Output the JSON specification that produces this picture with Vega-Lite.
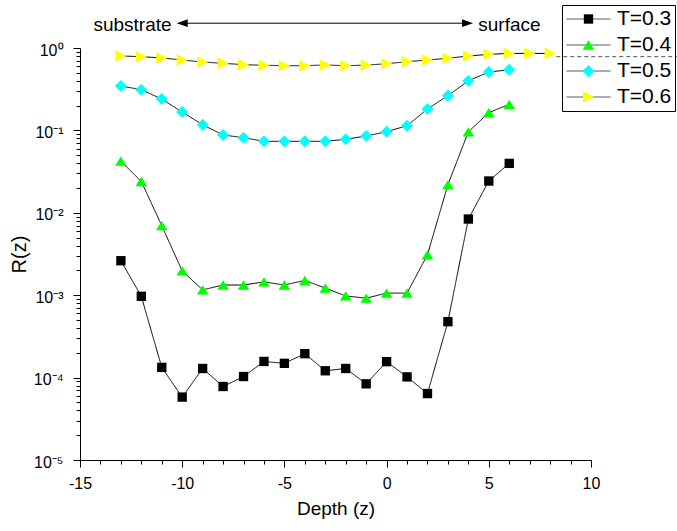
{
  "$schema": "https://vega.github.io/schema/vega-lite/v6.json",
  "width": 511,
  "height": 412,
  "autosize": "none",
  "padding": {"left": 80, "top": 48, "right": 86, "bottom": 71},
  "background": "white",
  "config": {
    "view": {"stroke": null},
    "axis": {
      "domainColor": "black", "tickColor": "black", "labelColor": "black", "titleColor": "black",
      "labelFont": "Liberation Sans", "titleFont": "Liberation Sans", "titleFontWeight": "normal",
      "grid": false, "tickWidth": 1, "domainWidth": 1
    },
    "legend": {"labelFont": "Liberation Sans"}
  },
  "datasets": {
    "profiles": [
      {"T": "T=0.3", "z": -13, "R": 0.00262},
      {"T": "T=0.3", "z": -12, "R": 0.00097},
      {"T": "T=0.3", "z": -11, "R": 0.000133},
      {"T": "T=0.3", "z": -10, "R": 0.000058},
      {"T": "T=0.3", "z": -9, "R": 0.000129},
      {"T": "T=0.3", "z": -8, "R": 0.000078},
      {"T": "T=0.3", "z": -7, "R": 0.000103},
      {"T": "T=0.3", "z": -6, "R": 0.000157},
      {"T": "T=0.3", "z": -5, "R": 0.000149},
      {"T": "T=0.3", "z": -4, "R": 0.000195},
      {"T": "T=0.3", "z": -3, "R": 0.000121},
      {"T": "T=0.3", "z": -2, "R": 0.000129},
      {"T": "T=0.3", "z": -1, "R": 0.000084},
      {"T": "T=0.3", "z": 0, "R": 0.000156},
      {"T": "T=0.3", "z": 1, "R": 0.000102},
      {"T": "T=0.3", "z": 2, "R": 0.000064},
      {"T": "T=0.3", "z": 3, "R": 0.000477},
      {"T": "T=0.3", "z": 4, "R": 0.0084},
      {"T": "T=0.3", "z": 5, "R": 0.0243},
      {"T": "T=0.3", "z": 6, "R": 0.0398},
      {"T": "T=0.4", "z": -13, "R": 0.0423},
      {"T": "T=0.4", "z": -12, "R": 0.024},
      {"T": "T=0.4", "z": -11, "R": 0.00698},
      {"T": "T=0.4", "z": -10, "R": 0.00197},
      {"T": "T=0.4", "z": -9, "R": 0.00116},
      {"T": "T=0.4", "z": -8, "R": 0.00133},
      {"T": "T=0.4", "z": -7, "R": 0.00133},
      {"T": "T=0.4", "z": -6, "R": 0.00145},
      {"T": "T=0.4", "z": -5, "R": 0.00133},
      {"T": "T=0.4", "z": -4, "R": 0.00151},
      {"T": "T=0.4", "z": -3, "R": 0.00122},
      {"T": "T=0.4", "z": -2, "R": 0.00098},
      {"T": "T=0.4", "z": -1, "R": 0.00092},
      {"T": "T=0.4", "z": 0, "R": 0.00106},
      {"T": "T=0.4", "z": 1, "R": 0.00106},
      {"T": "T=0.4", "z": 2, "R": 0.0031},
      {"T": "T=0.4", "z": 3, "R": 0.022},
      {"T": "T=0.4", "z": 4, "R": 0.096},
      {"T": "T=0.4", "z": 5, "R": 0.164},
      {"T": "T=0.4", "z": 6, "R": 0.207},
      {"T": "T=0.5", "z": -13, "R": 0.346},
      {"T": "T=0.5", "z": -12, "R": 0.312},
      {"T": "T=0.5", "z": -11, "R": 0.24},
      {"T": "T=0.5", "z": -10, "R": 0.167},
      {"T": "T=0.5", "z": -9, "R": 0.117},
      {"T": "T=0.5", "z": -8, "R": 0.088},
      {"T": "T=0.5", "z": -7, "R": 0.0816},
      {"T": "T=0.5", "z": -6, "R": 0.0737},
      {"T": "T=0.5", "z": -5, "R": 0.0737},
      {"T": "T=0.5", "z": -4, "R": 0.0737},
      {"T": "T=0.5", "z": -3, "R": 0.0737},
      {"T": "T=0.5", "z": -2, "R": 0.078},
      {"T": "T=0.5", "z": -1, "R": 0.0855},
      {"T": "T=0.5", "z": 0, "R": 0.0964},
      {"T": "T=0.5", "z": 1, "R": 0.114},
      {"T": "T=0.5", "z": 2, "R": 0.182},
      {"T": "T=0.5", "z": 3, "R": 0.264},
      {"T": "T=0.5", "z": 4, "R": 0.4},
      {"T": "T=0.5", "z": 5, "R": 0.51},
      {"T": "T=0.5", "z": 6, "R": 0.545},
      {"T": "T=0.6", "z": -13, "R": 0.8},
      {"T": "T=0.6", "z": -12, "R": 0.785},
      {"T": "T=0.6", "z": -11, "R": 0.757},
      {"T": "T=0.6", "z": -10, "R": 0.715},
      {"T": "T=0.6", "z": -9, "R": 0.676},
      {"T": "T=0.6", "z": -8, "R": 0.652},
      {"T": "T=0.6", "z": -7, "R": 0.628},
      {"T": "T=0.6", "z": -6, "R": 0.617},
      {"T": "T=0.6", "z": -5, "R": 0.61},
      {"T": "T=0.6", "z": -4, "R": 0.61},
      {"T": "T=0.6", "z": -3, "R": 0.622},
      {"T": "T=0.6", "z": -2, "R": 0.61},
      {"T": "T=0.6", "z": -1, "R": 0.62},
      {"T": "T=0.6", "z": 0, "R": 0.644},
      {"T": "T=0.6", "z": 1, "R": 0.682},
      {"T": "T=0.6", "z": 2, "R": 0.715},
      {"T": "T=0.6", "z": 3, "R": 0.75},
      {"T": "T=0.6", "z": 4, "R": 0.8},
      {"T": "T=0.6", "z": 5, "R": 0.837},
      {"T": "T=0.6", "z": 6, "R": 0.86},
      {"T": "T=0.6", "z": 7, "R": 0.86},
      {"T": "T=0.6", "z": 8, "R": 0.86}
    ]
  },
  "data": {"name": "profiles"},
  "encoding": {
    "x": {
      "field": "z", "type": "quantitative",
      "scale": {"domain": [-15, 10], "nice": false, "zero": false},
      "axis": {
        "title": "Depth (z)",
        "values": [-15, -14, -13, -12, -11, -10, -9, -8, -7, -6, -5, -4, -3, -2, -1, 0, 1, 2, 3, 4, 5, 6, 7, 8, 9, 10],
        "labelExpr": "datum.value % 5 === 0 ? '' + datum.value : ''",
        "tickSize": {"condition": {"test": "datum.value % 5 === 0", "value": 7}, "value": 4},
        "labelOverlap": false, "labelFlush": false,
        "labelFontSize": 16, "labelPadding": 8,
        "titleFontSize": 19, "titlePadding": 8
      }
    },
    "y": {
      "field": "R", "type": "quantitative",
      "scale": {"type": "log", "domain": [0.00001, 1], "nice": false},
      "axis": {
        "title": "R(z)",
        "values": [0.00001, 0.00002, 0.00003, 0.00004, 0.00005, 0.00006, 0.00007, 0.00008, 0.00009,
                   0.0001, 0.0002, 0.0003, 0.0004, 0.0005, 0.0006, 0.0007, 0.0008, 0.0009,
                   0.001, 0.002, 0.003, 0.004, 0.005, 0.006, 0.007, 0.008, 0.009,
                   0.01, 0.02, 0.03, 0.04, 0.05, 0.06, 0.07, 0.08, 0.09,
                   0.1, 0.2, 0.3, 0.4, 0.5, 0.6, 0.7, 0.8, 0.9, 1],
        "labelExpr": "abs(log(datum.value)/LN10 - round(log(datum.value)/LN10)) < 0.000001 ? ['10⁻⁵','10⁻⁴','10⁻³','10⁻²','10⁻¹','10⁰'][round(log(datum.value)/LN10) + 5] : ''",
        "tickSize": {"condition": {"test": "abs(log(datum.value)/LN10 - round(log(datum.value)/LN10)) < 0.000001", "value": 7}, "value": 4},
        "labelOverlap": false, "labelFlush": false,
        "labelFontSize": 16, "labelPadding": 10, "labelOffset": 2,
        "titleFontSize": 20, "titlePadding": 4
      }
    }
  },
  "layer": [
    {
      "data": {"values": [{"z": 8.3, "z2": 14.3, "R": 0.785}]},
      "mark": {"type": "rule", "color": "#555555", "strokeWidth": 1, "strokeDash": [4, 3]},
      "encoding": {"x2": {"field": "z2"}}
    },
    {
      "transform": [{"filter": "datum.R > 0"}],
      "mark": {"type": "line", "color": "black", "strokeWidth": 1},
      "encoding": {
        "strokeDash": {
          "field": "T", "type": "nominal",
          "scale": {"range": [[1, 0], [1, 0], [1, 0], [1, 0]]},
          "legend": {
            "title": null, "orient": "none", "legendX": 482, "legendY": -43,
            "symbolType": "M-4,0H4", "symbolSize": 121, "symbolOffset": 12.5,
            "symbolStrokeColor": "#444444", "symbolStrokeWidth": 1,
            "labelFontSize": 21, "labelColor": "black", "labelOffset": 18,
            "rowPadding": 4, "padding": 3.5, "strokeColor": "black"
          }
        }
      }
    },
    {
      "mark": {"type": "point", "filled": true, "size": 121, "opacity": 1, "strokeWidth": 0},
      "encoding": {
        "color": {
          "field": "T", "type": "nominal",
          "scale": {"domain": ["T=0.3", "T=0.4", "T=0.5", "T=0.6"], "range": ["#000000", "#00ff00", "#00ffff", "#ffff00"]},
          "legend": {
            "title": null, "orient": "none", "legendX": 482, "legendY": -43,
            "symbolSize": 121, "symbolOffset": 12.5, "symbolStrokeWidth": 0,
            "labelFontSize": 21, "labelOpacity": 0, "labelOffset": 18,
            "rowPadding": 4, "padding": 3.5
          }
        },
        "shape": {
          "field": "T", "type": "nominal",
          "scale": {"domain": ["T=0.3", "T=0.4", "T=0.5", "T=0.6"],
                    "range": ["M-0.85,-0.85H0.85V0.85H-0.85Z", "M0,-0.85L1.05,0.85L-1.05,0.85Z", "M0,-1.1L1.1,0L0,1.1L-1.1,0Z", "M1.05,0L-1,-1.05L-1,1.05Z"]},
          "legend": {
            "title": null, "orient": "none", "legendX": 482, "legendY": -43,
            "symbolSize": 121, "symbolOffset": 12.5, "symbolStrokeWidth": 0,
            "labelFontSize": 21, "labelOpacity": 0, "labelOffset": 18,
            "rowPadding": 4, "padding": 3.5
          }
        }
      }
    },
    {
      "data": {"values": [{"z": -10.1, "z2": 4.1, "R": 2}]},
      "mark": {"type": "rule", "color": "black", "strokeWidth": 1},
      "encoding": {"x2": {"field": "z2"}}
    },
    {
      "data": {"values": [{"z": -10.0, "R": 2}]},
      "mark": {"type": "point", "filled": true, "color": "black", "opacity": 1, "size": 121, "strokeWidth": 0, "shape": "M-1,0L1,-0.7L1,0.7Z"}
    },
    {
      "data": {"values": [{"z": 3.96, "R": 2}]},
      "mark": {"type": "point", "filled": true, "color": "black", "opacity": 1, "size": 121, "strokeWidth": 0, "shape": "M1,0L-1,-0.7L-1,0.7Z"}
    },
    {
      "data": {"values": [{"z": -12.43, "R": 1.62, "label": "substrate"}, {"z": 6.01, "R": 1.62, "label": "surface"}]},
      "mark": {"type": "text", "font": "Liberation Sans", "fontSize": 19, "color": "black", "align": "center", "baseline": "alphabetic"},
      "encoding": {"text": {"field": "label"}}
    }
  ]
}
